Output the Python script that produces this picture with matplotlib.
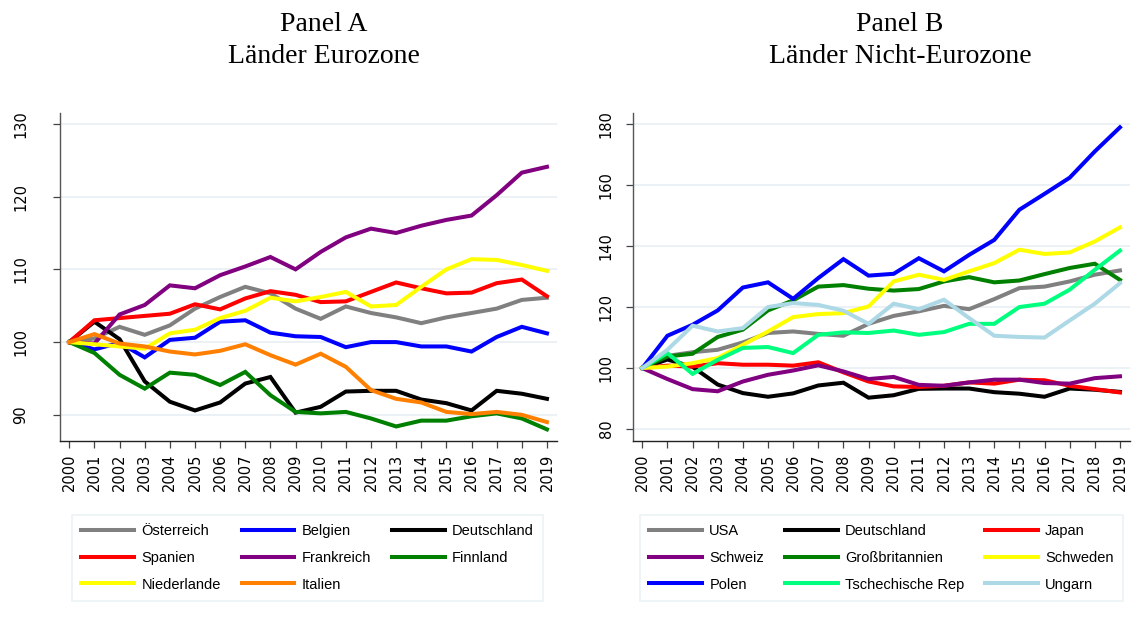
import numpy as np
import matplotlib
matplotlib.use("Agg")
import matplotlib.pyplot as plt

years = list(range(2000, 2020))

# Panel A - Eurozone
oesterreich = [100, 100.5, 102.1, 101.0, 102.3, 104.6, 106.2, 107.6, 106.7, 104.6,
               103.2, 104.9, 104.0, 103.4, 102.6, 103.4, 104.0, 104.6, 105.8, 106.1]
belgien = [100, 99.0, 99.9, 97.9, 100.3, 100.6, 102.8, 103.0, 101.3, 100.8,
           100.7, 99.3, 100.0, 100.0, 99.4, 99.4, 98.7, 100.7, 102.1, 101.2]
deutschland = [100, 102.8, 100.4, 94.6, 91.8, 90.6, 91.7, 94.3, 95.2, 90.3,
               91.1, 93.2, 93.3, 93.3, 92.1, 91.6, 90.6, 93.3, 92.9, 92.2]
spanien = [100, 103.0, 103.3, 103.6, 103.9, 105.2, 104.5, 106.0, 107.0, 106.5,
           105.5, 105.6, 106.9, 108.2, 107.4, 106.7, 106.8, 108.1, 108.6, 106.3]
frankreich = [100, 99.8, 103.8, 105.1, 107.8, 107.4, 109.2, 110.4, 111.7, 110.0,
              112.4, 114.4, 115.6, 115.0, 116.0, 116.8, 117.4, 120.2, 123.3, 124.1]
finnland = [100, 98.5, 95.5, 93.6, 95.8, 95.5, 94.1, 95.9, 92.7, 90.4,
            90.2, 90.4, 89.5, 88.4, 89.2, 89.2, 89.8, 90.2, 89.5, 88.0]
niederlande = [100, 99.7, 99.4, 99.1, 101.2, 101.7, 103.3, 104.3, 106.1, 105.6,
               106.2, 106.9, 104.9, 105.1, 107.6, 110.0, 111.4, 111.3, 110.6, 109.8]
italien = [100, 101.1, 99.8, 99.4, 98.7, 98.3, 98.8, 99.7, 98.2, 96.9,
           98.4, 96.6, 93.4, 92.2, 91.7, 90.4, 90.1, 90.4, 90.0, 89.0]

# Panel B - Nicht-Eurozone
usa = [100, 104.0, 105.2, 106.0, 108.4, 111.5, 112.0, 111.2, 110.6, 114.5,
       117.1, 118.6, 120.4, 119.3, 122.6, 126.2, 126.7, 128.4, 130.6, 132.0]
japan = [100, 100.8, 100.5, 101.6, 101.1, 101.1, 100.8, 101.9, 98.6, 95.6,
         94.0, 93.8, 94.2, 95.3, 94.9, 96.2, 96.0, 94.2, 93.1, 92.0]
schweiz = [100, 96.4, 93.1, 92.4, 95.6, 97.8, 99.2, 100.9, 98.9, 96.4,
           97.1, 94.5, 94.2, 95.3, 96.2, 96.2, 95.1, 94.9, 96.7, 97.3]
grossbritannien = [100, 103.8, 104.7, 110.2, 112.6, 118.9, 122.2, 126.7, 127.2, 126.0,
                   125.4, 125.9, 128.4, 129.8, 128.1, 128.7, 130.8, 132.8, 134.2, 128.9]
schweden = [100, 100.5, 101.6, 103.3, 107.6, 112.0, 116.7, 117.7, 118.0, 120.2,
            128.4, 130.6, 128.9, 131.7, 134.4, 138.8, 137.4, 137.9, 141.5, 146.1]
polen = [100, 110.6, 114.2, 118.9, 126.4, 128.1, 122.7, 129.5, 135.7, 130.3,
         130.9, 136.0, 131.7, 137.1, 142.0, 151.9, 157.1, 162.4, 171.0, 178.9]
tschechien = [100, 104.9, 98.1, 102.7, 106.6, 106.9, 104.9, 110.9, 111.7, 111.5,
              112.3, 110.9, 111.8, 114.5, 114.5, 120.0, 121.1, 125.7, 132.2, 138.5]
ungarn = [100, 106.0, 113.9, 112.0, 113.1, 120.0, 121.3, 120.7, 118.8, 114.5,
          121.1, 119.3, 122.4, 116.4, 110.6, 110.2, 110.0, 115.6, 121.1, 127.8]

series_a = [("Österreich", oesterreich, "#808080"),
            ("Belgien", belgien, "#0000ff"),
            ("Deutschland", deutschland, "#000000"),
            ("Spanien", spanien, "#ff0000"),
            ("Frankreich", frankreich, "#800080"),
            ("Finnland", finnland, "#008000"),
            ("Niederlande", niederlande, "#ffff00"),
            ("Italien", italien, "#ff8000")]

series_b = [("USA", usa, "#808080"),
            ("Deutschland", deutschland, "#000000"),
            ("Japan", japan, "#ff0000"),
            ("Schweiz", schweiz, "#800080"),
            ("Großbritannien", grossbritannien, "#008000"),
            ("Schweden", schweden, "#ffff00"),
            ("Polen", polen, "#0000ff"),
            ("Tschechische Rep", tschechien, "#00ff7f"),
            ("Ungarn", ungarn, "#add8e6")]

W, H = 1136, 619
GRID = "#e8eff3"
plt.rcParams["font.family"] = ["Liberation Sans", "DejaVu Sans"]

fig = plt.figure(figsize=(W / 100, H / 100), dpi=100)


def px_rect(x0, y0, x1, y1):
    return [x0 / W, 1 - y1 / H, (x1 - x0) / W, (y1 - y0) / H]


def draw_panel(ax, series, yticks, ylim, ypad):
    handles = []
    for name, vals, col in series:
        h, = ax.plot(years, vals, color=col, lw=2.9, solid_joinstyle="miter",
                     label=name)
        handles.append(h)
    ax.set_xlim(1999.63, 2019.4)
    ax.set_ylim(*ylim)
    ax.set_yticks(yticks)
    ax.set_yticklabels([str(t) for t in yticks], rotation=90, va="center",
                       family="DejaVu Sans")
    ax.set_xticks(years)
    ax.set_xticklabels([str(y) for y in years], rotation=90,
                       family="DejaVu Sans")
    ax.tick_params(axis="y", length=5, width=0.9, color="#444444",
                   pad=ypad, labelsize=10.5)
    ax.tick_params(axis="x", length=5, width=0.9, color="#444444",
                   pad=4, labelsize=10.5)
    ax.grid(axis="y", color=GRID, lw=1.2)
    ax.set_axisbelow(True)
    for s in ("top", "right"):
        ax.spines[s].set_visible(False)
    ax.spines["left"].set_color("#555555")
    ax.spines["bottom"].set_color("#222222")
    ax.spines["left"].set_linewidth(1.0)
    ax.spines["bottom"].set_linewidth(1.0)
    return handles


ax_a = fig.add_axes(px_rect(60, 113, 557, 441))
ha = draw_panel(ax_a, series_a, [90, 100, 110, 120, 130], (86.4, 131.5), 18)
ax_b = fig.add_axes(px_rect(633, 113, 1130, 441))
hb = draw_panel(ax_b, series_b, [80, 100, 120, 140, 160, 180], (76.1, 183.6), 9)


def col_order(handles, ncol):
    # matplotlib fills legend columns first; reorder so rows read like the source
    n = len(handles)
    nrow = int(np.ceil(n / ncol))
    out = []
    for c in range(ncol):
        for r in range(nrow):
            i = r * ncol + c
            if i < n:
                out.append(handles[i])
    return out


for handles, x0 in ((ha, 72), (hb, 640)):
    hs = col_order(handles, 3)
    leg = fig.legend(handles=hs, labels=[h.get_label() for h in hs], ncol=3,
                     loc="upper left", bbox_to_anchor=(x0 / W, 1 - 515 / H),
                     bbox_transform=fig.transFigure, fontsize=10.5,
                     handlelength=3.6, handletextpad=0.5, columnspacing=1.45,
                     labelspacing=0.86, borderpad=0.65, fancybox=False,
                     frameon=True, borderaxespad=0)
    leg.get_frame().set_edgecolor(GRID)
    leg.get_frame().set_linewidth(1.2)

title_font = dict(family=["Liberation Serif", "DejaVu Serif"], fontsize=20,
                  ha="center", va="baseline")
fig.text(324 / W, 1 - 31 / H, "Panel A", **title_font)
fig.text(324 / W, 1 - 63 / H, "Länder Eurozone", **title_font)
fig.text(900 / W, 1 - 31 / H, "Panel B", **title_font)
fig.text(900 / W, 1 - 63 / H, "Länder Nicht-Eurozone", **title_font)

fig.savefig("out.png", dpi=100, facecolor="white")
